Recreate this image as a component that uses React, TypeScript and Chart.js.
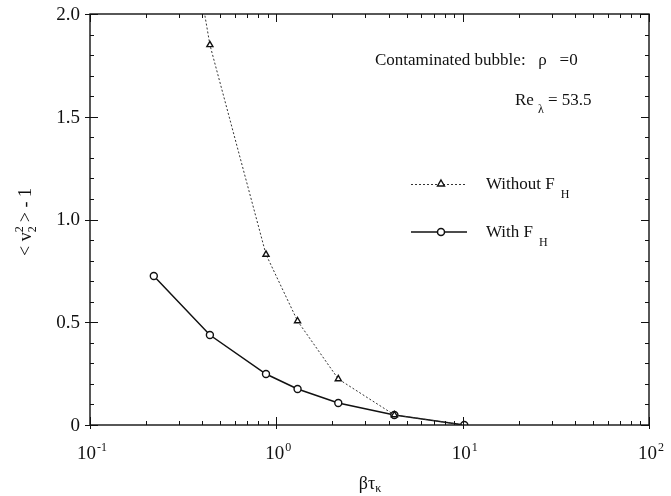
import React, { useEffect, useRef } from "react";
import { Chart, registerables } from "chart.js";

Chart.register(...registerables);

const xWithout = [0.22, 0.44, 0.88, 1.3, 2.15, 4.3, 10.2];
const yWithout = [3.45, 1.85, 0.83, 0.506, 0.224, 0.049, 0];
const xWith = [0.22, 0.44, 0.88, 1.3, 2.15, 4.3, 10.2];
const yWith = [0.725, 0.438, 0.248, 0.175, 0.107, 0.049, 0];
const xTickVals = [0.1, 1, 10, 100];
const xTickExps = ["-1", "0", "1", "2"];
const yTickVals = [0, 0.5, 1.0, 1.5, 2.0];
const yTickLabels = ["0", "0.5", "1.0", "1.5", "2.0"];

const SERIF = "'Liberation Serif', 'DejaVu Serif', serif";

function drawTextSeq(ctx: CanvasRenderingContext2D, x: number, y: number, parts: { t: string; size: number; dy: number; dx?: number }[]) {
  let cx = x;
  for (const p of parts) {
    ctx.font = `${p.size}px ${SERIF}`;
    cx += p.dx || 0;
    ctx.fillText(p.t, cx, y + p.dy);
    cx += ctx.measureText(p.t).width;
  }
  return cx;
}

function seqWidth(ctx: CanvasRenderingContext2D, parts: { t: string; size: number; dy: number; dx?: number }[]) {
  let w = 0;
  for (const p of parts) {
    ctx.font = `${p.size}px ${SERIF}`;
    w += ctx.measureText(p.t).width + (p.dx || 0);
  }
  return w;
}

const decorPlugin = {
  id: "decor",
  afterDraw(chart: any) {
    const ctx: CanvasRenderingContext2D = chart.ctx;
    const xs = chart.scales.x;
    const ys = chart.scales.y;
    const { left, right, top, bottom } = chart.chartArea;
    ctx.save();
    ctx.strokeStyle = "#111";
    ctx.fillStyle = "#111";
    ctx.lineWidth = 1.4;
    ctx.strokeRect(left, top, right - left, bottom - top);
    ctx.lineWidth = 1;
    // y ticks
    for (let i = 0; i <= 20; i++) {
      const v = i / 10;
      const py = Math.round(ys.getPixelForValue(v)) + 0.5;
      const major = i % 5 === 0;
      const len = major ? 8 : 4;
      ctx.beginPath();
      ctx.moveTo(left - (major ? 5 : 0), py);
      ctx.lineTo(left + len, py);
      ctx.moveTo(right, py);
      ctx.lineTo(right - len, py);
      ctx.stroke();
    }
    // x ticks
    for (let d = -1; d <= 2; d++) {
      for (let m = 1; m <= 9; m++) {
        if (d === 2 && m > 1) break;
        const v = m * Math.pow(10, d);
        const px = Math.round(xs.getPixelForValue(v)) + 0.5;
        const major = m === 1;
        const len = major ? 8 : 4;
        ctx.beginPath();
        ctx.moveTo(px, bottom + (major ? 4 : 0));
        ctx.lineTo(px, bottom - len);
        ctx.moveTo(px, top);
        ctx.lineTo(px, top + len);
        ctx.stroke();
      }
    }
    // y tick labels
    ctx.font = `19px ${SERIF}`;
    ctx.textAlign = "right";
    ctx.textBaseline = "middle";
    yTickVals.forEach((v, i) => {
      ctx.fillText(yTickLabels[i], left - 10, ys.getPixelForValue(v) + 1);
    });
    ctx.textAlign = "left";
    ctx.textBaseline = "alphabetic";
    // x tick labels
    xTickVals.forEach((v, i) => {
      const parts = [
        { t: "10", size: 19, dy: 0 },
        { t: xTickExps[i], size: 12, dy: -8, dx: 1 },
      ];
      const w = seqWidth(ctx, parts);
      drawTextSeq(ctx, xs.getPixelForValue(v) - w / 2 + 2, 459, parts);
    });
    // annotations
    drawTextSeq(ctx, 375, 65, [{ t: "Contaminated bubble:   \u03C1   =0", size: 17, dy: 0 }]);
    drawTextSeq(ctx, 515, 105, [
      { t: "Re", size: 17, dy: 0 },
      { t: "\u03BB", size: 12, dy: 8, dx: 4 },
      { t: " = 53.5", size: 17, dy: 0 },
    ]);
    // legend
    const lx0 = 411, lx1 = 467, mx = 441;
    ctx.lineWidth = 1;
    ctx.setLineDash([2, 2]);
    ctx.strokeStyle = "#333";
    ctx.beginPath();
    ctx.moveTo(lx0, 184.5);
    ctx.lineTo(lx1, 184.5);
    ctx.stroke();
    ctx.setLineDash([]);
    ctx.strokeStyle = "#111";
    ctx.lineWidth = 1.4;
    ctx.beginPath();
    ctx.moveTo(mx, 180);
    ctx.lineTo(mx + 3.5, 186);
    ctx.lineTo(mx - 3.5, 186);
    ctx.closePath();
    ctx.fillStyle = "#fff";
    ctx.fill();
    ctx.stroke();
    ctx.lineWidth = 1.5;
    ctx.beginPath();
    ctx.moveTo(lx0, 232);
    ctx.lineTo(lx1, 232);
    ctx.stroke();
    ctx.beginPath();
    ctx.arc(mx, 232, 3.5, 0, Math.PI * 2);
    ctx.fill();
    ctx.stroke();
    ctx.fillStyle = "#111";
    drawTextSeq(ctx, 486, 189, [
      { t: "Without F", size: 17, dy: 0 },
      { t: "H", size: 12, dy: 9, dx: 6 },
    ]);
    drawTextSeq(ctx, 486, 237, [
      { t: "With F", size: 17, dy: 0 },
      { t: "H", size: 12, dy: 9, dx: 6 },
    ]);
    // x title
    const xt = [
      { t: "\u03B2\u03C4", size: 18, dy: 0 },
      { t: "\u03BA", size: 12, dy: 3 },
    ];
    drawTextSeq(ctx, 370 - seqWidth(ctx, xt) / 2, 489, xt);
    // y title
    ctx.save();
    ctx.translate(31, 222);
    ctx.rotate(-Math.PI / 2);
    const parts = [
      { t: "< v", size: 18, dy: 0 },
      { t: "2", size: 12, dy: 5 },
      { t: "> - 1", size: 18, dy: 0, dx: 4 },
    ];
    const sx = -seqWidth(ctx, parts) / 2;
    ctx.font = `18px ${SERIF}`;
    const wv = ctx.measureText("< v").width;
    drawTextSeq(ctx, sx, 0, parts);
    ctx.font = `12px ${SERIF}`;
    ctx.fillText("2", sx + wv, -8);
    ctx.restore();
    ctx.restore();
  },
};

export default function App() {
  const ref = useRef<HTMLCanvasElement | null>(null);
  useEffect(() => {
    document.body.style.margin = "0";
    const canvas = ref.current!;
    const chart = new Chart(canvas, {
      type: "line",
      data: {
        datasets: [
          {
            label: "Without F_H",
            data: xWithout.map((x, i) => ({ x, y: yWithout[i] })),
            borderColor: "#333",
            borderWidth: 1,
            borderDash: [2, 2],
            pointStyle: "triangle",
            pointRadius: xWithout.map((_, i) => (i === 0 || i === xWithout.length - 1 ? 0 : 3.5)),
            pointBorderWidth: 1.4,
            pointBorderColor: "#111",
            pointBackgroundColor: "#fff",
            tension: 0,
          },
          {
            label: "With F_H",
            data: xWith.map((x, i) => ({ x, y: yWith[i] })),
            borderColor: "#111",
            borderWidth: 1.5,
            pointStyle: "circle",
            pointRadius: 3.5,
            pointBorderWidth: 1.4,
            pointBorderColor: "#111",
            pointBackgroundColor: "#fff",
            tension: 0,
          },
        ],
      },
      options: {
        animation: false,
        responsive: false,
        maintainAspectRatio: false,
        layout: { padding: { top: 14, right: 22, left: 0, bottom: 0 } },
        plugins: { legend: { display: false }, tooltip: { enabled: false } },
        scales: {
          x: {
            type: "logarithmic",
            min: 0.1,
            max: 100,
            grid: { display: false, drawTicks: false },
            border: { display: false },
            ticks: { display: false },
            afterFit: (s: any) => {
              s.height = 71;
            },
          },
          y: {
            min: 0,
            max: 2,
            grid: { display: false, drawTicks: false },
            border: { display: false },
            ticks: { display: false },
            afterFit: (s: any) => {
              s.width = 90;
            },
          },
        },
      },
      plugins: [decorPlugin],
    } as any);
    return () => chart.destroy();
  }, []);
  return <canvas ref={ref} width={671} height={496} style={{ display: "block" }} />;
}
